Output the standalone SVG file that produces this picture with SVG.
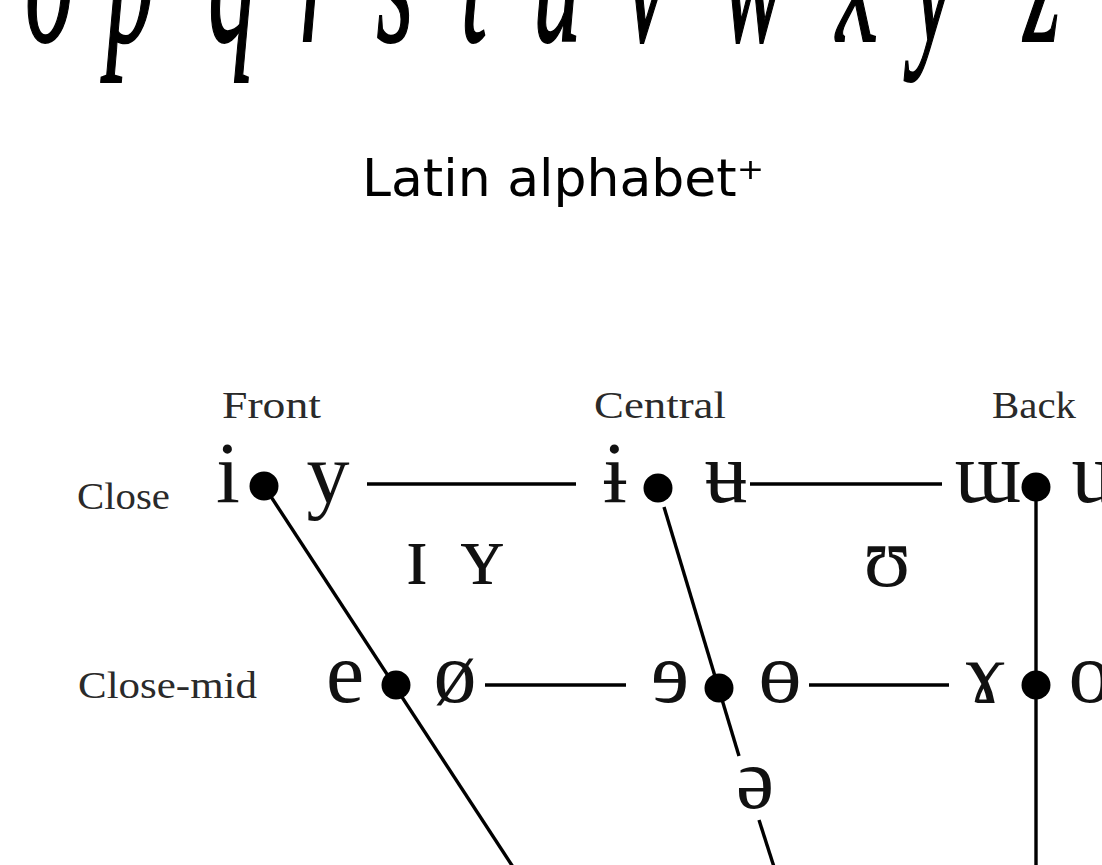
<svg xmlns="http://www.w3.org/2000/svg" width="1102" height="865" viewBox="0 0 1102 865">
<style>
.alpha{font-family:"Liberation Serif","DejaVu Serif",serif;font-style:italic;font-size:190px;fill:#000;stroke:#000;stroke-width:2;text-anchor:middle}
.title{font-family:"DejaVu Sans","Noto Sans",sans-serif;font-size:52px;fill:#000}
.lab{font-family:"Liberation Serif","DejaVu Serif",serif;font-size:38px;fill:#2a2a2a}
.ipa{font-family:"Liberation Serif","DejaVu Serif","Noto Sans",serif;font-size:86px;fill:#111;text-anchor:middle}
.ln{stroke:#000;stroke-width:3.4;fill:none}
.dot{fill:#000}
</style>
<rect width="1102" height="865" fill="#fff"/>
<g id="alphabet" transform="scale(0.5,1)">
<text class="alpha" x="98" y="41">o</text>
<text class="alpha" x="260" y="41">p</text>
<text class="alpha" x="464" y="41">q</text>
<text class="alpha" x="636" y="41">r</text>
<text class="alpha" x="790" y="41">s</text>
<text class="alpha" x="948" y="41">t</text>
<text class="alpha" x="1114" y="41">u</text>
<text class="alpha" x="1292" y="41">v</text>
<text class="alpha" x="1506" y="41">w</text>
<text class="alpha" x="1714" y="41">x</text>
<text class="alpha" x="1866" y="41">y</text>
<text class="alpha" x="2084" y="41">z</text>
</g>
<g id="title"><text class="title" x="362" y="196">Latin alphabet⁺</text></g>
<g id="labels">
<text id="front" class="lab" x="222" y="418" textLength="99" lengthAdjust="spacingAndGlyphs">Front</text>
<text id="central" class="lab" x="594" y="418" textLength="132" lengthAdjust="spacingAndGlyphs">Central</text>
<text id="back" class="lab" x="992" y="418" textLength="84" lengthAdjust="spacingAndGlyphs">Back</text>
<text id="close" class="lab" x="77" y="509" textLength="93" lengthAdjust="spacingAndGlyphs">Close</text>
<text id="closemid" class="lab" x="78" y="698" textLength="179" lengthAdjust="spacingAndGlyphs">Close-mid</text>
</g>
<g id="connectors">
<line class="ln" x1="367" y1="484" x2="576" y2="484"/>
<line class="ln" x1="750" y1="484" x2="942" y2="484"/>
<line class="ln" x1="485" y1="685" x2="626" y2="685"/>
<line class="ln" x1="809" y1="685" x2="949" y2="685"/>
<line class="ln" x1="264" y1="486" x2="515" y2="870"/>
<line class="ln" x1="664" y1="507" x2="739" y2="756"/>
<line class="ln" x1="759" y1="820" x2="775" y2="870"/>
<line class="ln" x1="1036" y1="487" x2="1036" y2="870"/>
</g>
<g id="dots">
<circle class="dot" cx="264" cy="486" r="14.5"/>
<circle class="dot" cx="658" cy="488" r="14.5"/>
<circle class="dot" cx="1036" cy="487" r="14.5"/>
<circle class="dot" cx="396" cy="685" r="14.5"/>
<circle class="dot" cx="719" cy="688" r="14.5"/>
<circle class="dot" cx="1036" cy="685" r="14.5"/>
</g>
<g id="vowels">
<text id="v-i" class="ipa" x="228" y="502">i</text>
<text id="v-y" class="ipa" x="328" y="502">y</text>
<text id="v-bi" class="ipa" x="615" y="502">ɨ</text>
<text id="v-bu" class="ipa" x="726" y="502">ʉ</text>
<text id="v-tm" class="ipa" x="988" y="502">ɯ</text>
<text id="v-u" class="ipa" x="1093" y="502">u</text>
<text id="v-I" class="ipa" x="417" y="584">ɪ</text>
<text id="v-Y" class="ipa" x="482" y="584">ʏ</text>
<text id="v-U" class="ipa" x="887" y="586">ʊ</text>
<text id="v-e" class="ipa" x="345" y="702">e</text>
<text id="v-o2" class="ipa" x="455" y="702">ø</text>
<text id="v-re" class="ipa" x="670" y="702">ɘ</text>
<text id="v-bo" class="ipa" x="780" y="702">ɵ</text>
<text id="v-rh" class="ipa" x="985" y="702">ɤ</text>
<text id="v-o" class="ipa" x="1090" y="702">o</text>
<text id="v-schwa" class="ipa" x="755" y="808">ə</text>
</g>
</svg>
